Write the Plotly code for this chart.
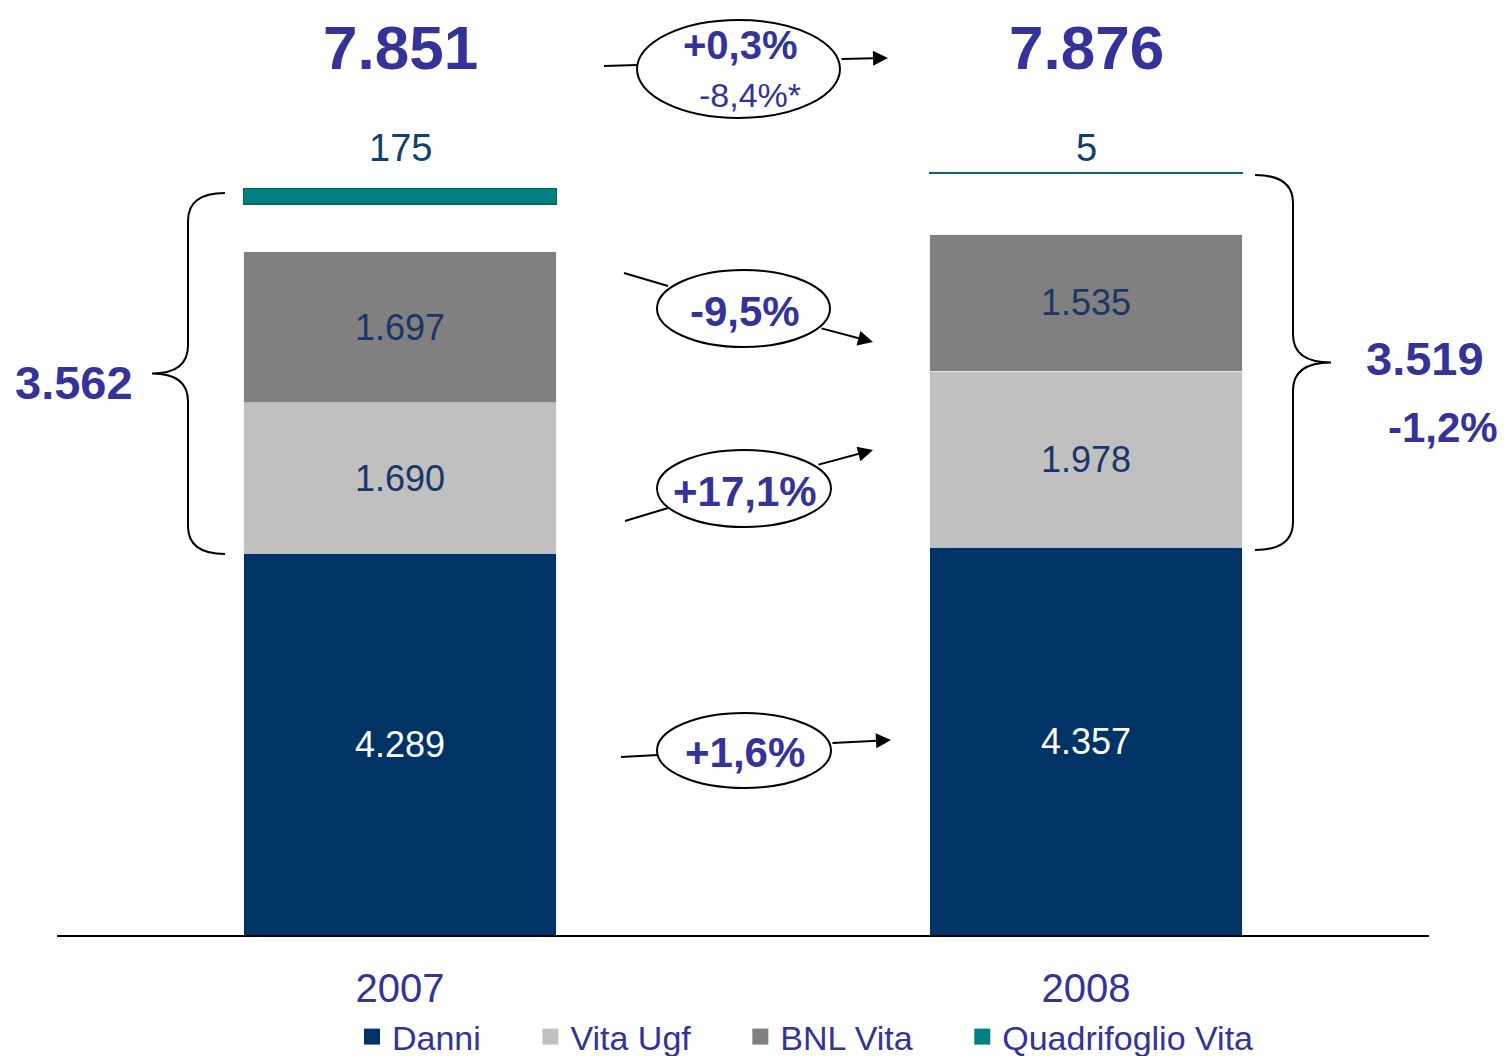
import plotly.graph_objects as go

years = ["2007", "2008"]
danni = [4289, 4357]
vita_ugf = [1690, 1978]
bnl_vita = [1697, 1535]
quadrifoglio = [175, 5]
totals = ["7.851", "7.876"]
life_totals = ["3.562", "3.519"]
total_change = "+0,3%"
total_change_like = "-8,4%*"
life_change = "-1,2%"
segment_change = {"danni": "+1,6%", "vita": "+17,1%", "bnl": "-9,5%"}

FONT = "Liberation Sans, Arial, sans-serif"
BLUE = "#333399"
NAVY = "#1a3668"
QUAD_GAP = [535, 690]   # empty space above the stack before the Quadrifoglio bar
YMAX = 10416

# the page has an 8px body margin; helpers take page pixels
# plot area on the page: x 57..1429, y 8..935
def PX(x):
    return (x - 57) / 1372


def PY(y):
    return (935 - y) / 927


def fmt(v):
    return f"{v:,}".replace(",", ".")


fig = go.Figure()
fig.add_bar(x=years, y=danni, name="Danni", marker_color="#003366",
            text=[fmt(v) for v in danni], textposition="inside",
            insidetextanchor="middle", textangle=0,
            insidetextfont=dict(family=FONT, size=36, color="white"),
            showlegend=False)
fig.add_bar(x=years, y=vita_ugf, name="Vita Ugf", marker_color="#c0c0c0",
            text=[fmt(v) for v in vita_ugf], textposition="inside",
            insidetextanchor="middle", textangle=0,
            insidetextfont=dict(family=FONT, size=36, color=NAVY),
            showlegend=False)
fig.add_bar(x=years, y=bnl_vita, name="BNL Vita", marker_color="#808080",
            text=[fmt(v) for v in bnl_vita], textposition="inside",
            insidetextanchor="middle", textangle=0,
            insidetextfont=dict(family=FONT, size=36, color=NAVY),
            showlegend=False)

stack_top = [d + v + b for d, v, b in zip(danni, vita_ugf, bnl_vita)]
quad_base = [s + g for s, g in zip(stack_top, QUAD_GAP)]
fig.add_bar(x=years, y=quadrifoglio, base=quad_base, name="Quadrifoglio Vita",
            marker=dict(color="#008080", line=dict(color="#0b6464", width=1.5)),
            showlegend=False)

# legend entries with larger square swatches
pad = "\u00a0" * 4 + "\u2009"
for name, col in [("Danni", "#003366"), ("Vita Ugf", "#c0c0c0"),
                  ("BNL Vita", "#808080"), ("Quadrifoglio Vita", "#008080")]:
    fig.add_scatter(x=[None], y=[None], mode="markers", name=name + pad,
                    marker=dict(symbol="square", size=20, color=col))

ann = []
quad_label_y = max(b + q for b, q in zip(quad_base, quadrifoglio)) + 280
for i, q in enumerate(quadrifoglio):
    ann.append(dict(x=i, y=quad_label_y, xref="x", yref="y", text=str(q),
                    xanchor="center", yanchor="middle", showarrow=False,
                    font=dict(family=FONT, size=38, color="#10406e")))

for i, t in enumerate(totals):
    ann.append(dict(x=i, y=PY(48), xref="x", yref="paper", text=f"<b>{t}</b>",
                    xanchor="center", yanchor="middle", showarrow=False,
                    font=dict(family=FONT, size=62, color=BLUE)))


def txt(x, y, s, size, bold=True):
    return dict(x=PX(x), y=PY(y), xref="paper", yref="paper",
                xanchor="center", yanchor="middle",
                text=f"<b>{s}</b>" if bold else s, showarrow=False,
                font=dict(family=FONT, size=size, color=BLUE))


ann += [
    txt(74, 383, life_totals[0], 47),
    txt(1425, 358, life_totals[1], 47),
    txt(1443, 427, life_change, 42),
    txt(740, 45, total_change, 40),
    txt(750, 95, total_change_like, 34, bold=False),
    txt(745, 311, segment_change["bnl"], 42),
    txt(745, 491, segment_change["vita"], 42),
    txt(745, 752, segment_change["danni"], 42),
]

# arrows: (tail, tip)
for (tx, ty), (hx, hy) in [((840, 59), (888, 58)), ((820, 328), (873, 342)),
                           ((817, 465), (873, 450)), ((831, 743), (891, 740))]:
    ann.append(dict(x=PX(hx), y=PY(hy), xref="paper", yref="paper", text="",
                    showarrow=True, ax=tx - hx, ay=ty - hy, arrowhead=2,
                    arrowsize=1.5, arrowwidth=2, arrowcolor="black", standoff=0))

shapes = []
for (x0, y0), (x1, y1) in [((604, 66), (637, 65)), ((624, 273), (668, 286)),
                           ((625, 521), (668, 508)), ((621, 757), (658, 755))]:
    shapes.append(dict(type="line", xref="paper", yref="paper",
                       x0=PX(x0), y0=PY(y0), x1=PX(x1), y1=PY(y1),
                       line=dict(color="black", width=2)))

for x0, y0, x1, y1 in [(637, 20, 840, 118), (657, 270, 830, 347),
                       (657, 450, 831, 527), (657, 713, 831, 788)]:
    shapes.append(dict(type="circle", xref="paper", yref="paper",
                       x0=PX(x0), x1=PX(x1), y0=PY(y1), y1=PY(y0),
                       fillcolor="white", line=dict(color="black", width=2)))


def brace(x_end, x_spine, x_tip, y_top, y_bot, r=28):
    ym = (y_top + y_bot) / 2
    p = lambda x, y: f"{PX(x):.5f},{PY(y):.5f}"
    return (f"M {p(x_end, y_top)} Q {p(x_spine, y_top)} {p(x_spine, y_top + r)} "
            f"L {p(x_spine, ym - r)} Q {p(x_spine, ym)} {p(x_tip, ym)} "
            f"Q {p(x_spine, ym)} {p(x_spine, ym + r)} L {p(x_spine, y_bot - r)} "
            f"Q {p(x_spine, y_bot)} {p(x_end, y_bot)}")


for path in [brace(225, 188, 152, 193, 554), brace(1255, 1293, 1331, 175, 550)]:
    shapes.append(dict(type="path", xref="paper", yref="paper", path=path,
                       line=dict(color="black", width=2)))

fig.update_layout(
    width=1498, height=1048,
    margin=dict(l=49, r=77, t=0, b=121, autoexpand=False),
    barmode="stack", bargap=0.544,
    plot_bgcolor="white", paper_bgcolor="white",
    annotations=ann, shapes=shapes,
    showlegend=True,
    legend=dict(orientation="h", x=PX(352), xanchor="left", y=PY(1037),
                yanchor="middle", traceorder="normal",
                font=dict(family=FONT, size=34, color=BLUE),
                bgcolor="rgba(0,0,0,0)", itemwidth=30),
    xaxis=dict(showline=True, linecolor="black", linewidth=2, ticks="outside",
               ticklen=17, tickcolor="rgba(0,0,0,0)", showgrid=False,
               tickfont=dict(family=FONT, size=40, color=BLUE), fixedrange=True),
    yaxis=dict(visible=False, range=[0, YMAX], showgrid=False, fixedrange=True),
)

fig.write_html("out.html")
